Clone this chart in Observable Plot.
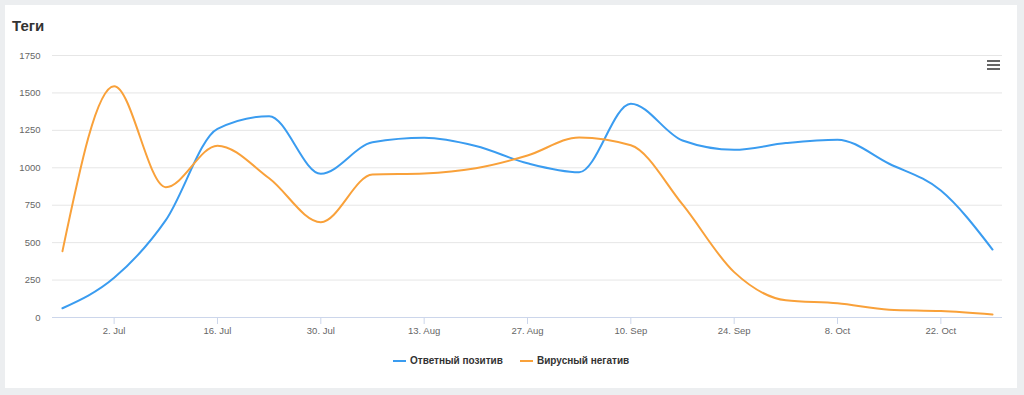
<!DOCTYPE html>
<html><head><meta charset="utf-8">
<script src="https://cdn.jsdelivr.net/npm/d3@7"></script>
<script src="https://cdn.jsdelivr.net/npm/@observablehq/plot@0.6"></script>
<style>
html,body{margin:0;padding:0;}
body{background:#eceef0;width:1024px;height:395px;overflow:hidden;position:relative;font-family:"Liberation Sans",Arial,Helvetica,sans-serif;}
#card{position:absolute;left:5px;top:5px;width:1012px;height:383px;background:#fff;}
#chart{position:absolute;left:0;top:0;}
#title{position:absolute;left:12px;top:17px;font-size:15px;font-weight:bold;color:#333;line-height:18px;}
.menu{position:absolute;left:987px;width:13px;height:2px;background:#666;}
.leg{position:absolute;top:355px;font-size:10px;font-weight:bold;color:#333;line-height:12px;white-space:nowrap;}
.sym{position:absolute;top:360px;width:13px;height:2px;}
</style>
</head><body>
<div id="card"></div>
<div id="chart"></div>
<div id="title">Теги</div>
<div class="menu" style="top:60px"></div>
<div class="menu" style="top:64px"></div>
<div class="menu" style="top:68px"></div>
<div class="sym" style="left:393px;background:#3a9cf0"></div>
<div class="leg" style="left:410px">Ответный позитив</div>
<div class="sym" style="left:520px;background:#f9a13a"></div>
<div class="leg" style="left:537px">Вирусный негатив</div>
<script>
const dates = ["2018-06-25","2018-07-02","2018-07-09","2018-07-16","2018-07-23","2018-07-30","2018-08-06","2018-08-13","2018-08-20","2018-08-27","2018-09-03","2018-09-10","2018-09-17","2018-09-24","2018-10-01","2018-10-08","2018-10-15","2018-10-22","2018-10-29"];
const positive = [62, 265, 650, 1260, 1345, 960, 1170, 1200, 1145, 1030, 970, 1428, 1182, 1120, 1165, 1188, 1027, 848, 454];
const negative = [443, 1545, 870, 1148, 930, 637, 955, 962, 997, 1082, 1203, 1150, 755, 303, 115, 95, 52, 43, 20];
const seriesNames = ["Ответный позитив", "Вирусный негатив"];
const seriesColors = ["#3a9cf0", "#f9a13a"];
const yTicks = [0, 250, 500, 750, 1000, 1250, 1500, 1750];
const xTickDates = ["2018-07-02","2018-07-16","2018-07-30","2018-08-13","2018-08-27","2018-09-10","2018-09-24","2018-10-08","2018-10-22"];
const xTickLabels = ["2. Jul","16. Jul","30. Jul","13. Aug","27. Aug","10. Sep","24. Sep","8. Oct","22. Oct"];

const parse = s => new Date(s + "T00:00:00Z");
const rows = [];
dates.forEach((d, i) => {
  rows.push({date: parse(d), value: positive[i], series: seriesNames[0]});
  rows.push({date: parse(d), value: negative[i], series: seriesNames[1]});
});
const xt = xTickDates.map(parse);
const labelMap = new Map(xt.map((d, i) => [+d, xTickLabels[i]]));
const pad = 1.35 * 864e5;
const x0 = new Date(+parse(dates[0]) - pad), x1 = new Date(+parse(dates[dates.length-1]) + pad);

const chart = Plot.plot({
  width: 1024, height: 395,
  marginLeft: 52, marginRight: 22, marginTop: 55, marginBottom: 78,
  style: {background: "transparent", fontFamily: "'Liberation Sans', Arial, sans-serif", fontSize: "9.5px"},
  x: {type: "utc", domain: [x0, x1]},
  y: {domain: [0, 1750]},
  color: {domain: seriesNames, range: seriesColors},
  marks: [
    Plot.ruleY(yTicks.slice(1), {stroke: "#e6e6e6", strokeWidth: 1}),
    Plot.ruleY([0], {stroke: "#ccd6eb", strokeWidth: 1}),
    Plot.axisY({ticks: yTicks, tickSize: 0, tickPadding: 12, label: null, fill: "#666", tickFormat: d => String(d)}),
    Plot.axisX({ticks: xt, tickSize: 7, tickPadding: 3, stroke: "#ccd6eb", fill: "#666", label: null, tickFormat: d => labelMap.get(+d)}),
    Plot.line(rows, {x: "date", y: "value", z: "series", stroke: "series", strokeWidth: 2, curve: "monotone-x"})
  ]
});
document.getElementById("chart").appendChild(chart);
</script>
</body></html>
